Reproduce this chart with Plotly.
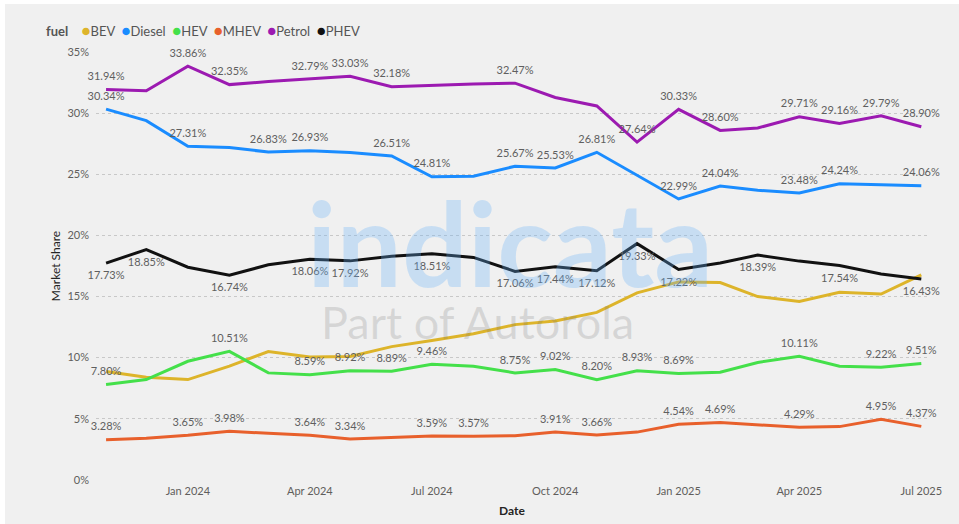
import plotly.graph_objects as go

months = ['2023-11-01', '2023-12-01', '2024-01-01', '2024-02-01', '2024-03-01', '2024-04-01',
          '2024-05-01', '2024-06-01', '2024-07-01', '2024-08-01', '2024-09-01', '2024-10-01',
          '2024-11-01', '2024-12-01', '2025-01-01', '2025-02-01', '2025-03-01', '2025-04-01',
          '2025-05-01', '2025-06-01', '2025-07-01']

bev = [8.86, 8.4, 8.2, 9.3, 10.5, 10.05, 10.1, 10.9, 11.4, 11.95, 12.7, 13.0,
       13.7, 15.3, 16.2, 16.15, 15.0, 14.6, 15.35, 15.2, 16.78]
diesel = [30.34, 29.4, 27.31, 27.2, 26.83, 26.93, 26.8, 26.51, 24.81, 24.85, 25.67, 25.53,
          26.81, 24.9, 22.99, 24.04, 23.7, 23.48, 24.24, 24.15, 24.06]
hev = [7.80, 8.2, 9.7, 10.51, 8.75, 8.59, 8.92, 8.89, 9.46, 9.3, 8.75, 9.02,
       8.20, 8.93, 8.69, 8.8, 9.6, 10.11, 9.3, 9.22, 9.51]
mhev = [3.28, 3.4, 3.65, 3.98, 3.8, 3.64, 3.34, 3.45, 3.59, 3.57, 3.6, 3.91,
        3.66, 3.9, 4.54, 4.69, 4.5, 4.29, 4.35, 4.95, 4.37]
petrol = [31.94, 31.85, 33.86, 32.35, 32.6, 32.79, 33.03, 32.18, 32.3, 32.4, 32.47, 31.3,
          30.6, 27.64, 30.33, 28.60, 28.8, 29.71, 29.16, 29.79, 28.90]
phev = [17.73, 18.85, 17.4, 16.74, 17.6, 18.06, 17.92, 18.3, 18.51, 18.2, 17.06, 17.44,
        17.12, 19.33, 17.22, 17.75, 18.39, 17.9, 17.54, 16.85, 16.43]

# indices of points whose data label is visible in the reference
bev_shown = []
diesel_shown = [0, 2, 4, 5, 7, 8, 10, 11, 12, 14, 15, 17, 18, 20]
hev_shown = [0, 3, 5, 6, 7, 8, 10, 11, 12, 13, 14, 17, 19, 20]
mhev_shown = [0, 2, 3, 5, 6, 8, 9, 11, 12, 14, 15, 17, 19, 20]
petrol_shown = [0, 2, 3, 5, 6, 7, 10, 13, 14, 15, 17, 18, 19, 20]
phev_shown = [0, 1, 3, 5, 6, 8, 10, 11, 12, 13, 14, 16, 18, 20]

series_names = ['BEV', 'Diesel', 'HEV', 'MHEV', 'Petrol', 'PHEV']
series_colors = ['#DDB42A', '#1A8CFF', '#44E04A', '#E8602C', '#9C1AB1', '#111111']

x_tickvals = ['2024-01-01', '2024-04-01', '2024-07-01', '2024-10-01', '2025-01-01', '2025-04-01', '2025-07-01']
x_ticktext = ['Jan 2024', 'Apr 2024', 'Jul 2024', 'Oct 2024', 'Jan 2025', 'Apr 2025', 'Jul 2025']
y_tickvals = [0, 5, 10, 15, 20, 25, 30, 35]
y_ticktext = ['0%', '5%', '10%', '15%', '20%', '25%', '30%', '35%']

FONT = 'Segoe UI, Lato, sans-serif'

fig = go.Figure()

series = [
    (bev, bev_shown, 'top center'),
    (diesel, diesel_shown, 'top center'),
    (hev, hev_shown, 'top center'),
    (mhev, mhev_shown, 'top center'),
    (petrol, petrol_shown, 'top center'),
    (phev, phev_shown, 'bottom center'),
]

for (vals, shown, pos), name, color in zip(series, series_names, series_colors):
    labels = [f'{v:.2f}%' if i in shown else '' for i, v in enumerate(vals)]
    fig.add_trace(go.Scatter(
        x=months, y=vals, name=name, mode='lines+markers+text',
        line=dict(color=color, width=3),
        marker=dict(size=11 if pos.startswith('bottom') else 9, opacity=0, color=color),
        text=labels, textposition=pos,
        textfont=dict(family=FONT, size=11, color='#5f5f5f'),
        showlegend=False, cliponaxis=False, hoverinfo='skip',
    ))

legend_parts = ['<b>fuel</b>  ']
for name, color in zip(series_names, series_colors):
    legend_parts.append(f'<span style="color:{color};font-size:15px">●</span>{name}')
legend_text = '  '.join(legend_parts)

fig.add_annotation(text=legend_text, xref='paper', yref='paper', x=-0.063, y=1.051,
                   xanchor='left', yanchor='middle', showarrow=False,
                   font=dict(family=FONT, size=13, color='#555555'))

# watermark
fig.add_annotation(text='<b>indicata</b>', xref='paper', yref='paper', x=0.497, y=0.555,
                   xanchor='center', yanchor='middle', showarrow=False,
                   font=dict(family='Lato, sans-serif', size=116, color='rgba(107,180,247,0.30)'))
fig.add_annotation(text='Part of Autorola', xref='paper', yref='paper', x=0.458, y=0.37,
                   xanchor='center', yanchor='middle', showarrow=False,
                   font=dict(family='Lato, sans-serif', size=45, color='rgba(120,120,120,0.22)'))

# white frame strips (top and left)
fig.add_shape(type='rect', xref='paper', yref='paper', x0=-0.2, x1=1.1, y0=1.112, y1=1.2,
              fillcolor='white', line=dict(width=0), layer='below')
fig.add_shape(type='rect', xref='paper', yref='paper', x0=-0.2, x1=-0.1094, y0=-0.2, y1=1.2,
              fillcolor='white', line=dict(width=0), layer='below')

fig.update_layout(
    width=959, height=524,
    margin=dict(l=96, r=31, t=52, b=44, autoexpand=False),
    paper_bgcolor='#f0f0f0', plot_bgcolor='#f0f0f0',
    font=dict(family=FONT, size=11, color='#605E5C'),
    showlegend=False,
    xaxis=dict(
        type='date', range=['2023-10-24 12:00', '2025-07-06'],
        tickvals=x_tickvals, ticktext=x_ticktext, automargin=False,
        showgrid=False, zeroline=False, showline=False, ticks='', ticklabelstandoff=3,
        tickfont=dict(family=FONT, size=11, color='#605E5C'),
        title=dict(text='<b>Date</b>', font=dict(family=FONT, size=12, color='#252423'), standoff=10),
    ),
    yaxis=dict(
        range=[-0.02, 35.02], tickvals=y_tickvals, ticktext=y_ticktext, automargin=False,
        showgrid=True, gridcolor='#c8c8c8', griddash='dot', gridwidth=1,
        zeroline=False, showline=False, ticks='', ticklabelstandoff=6,
        tickfont=dict(family=FONT, size=11, color='#605E5C'),
        title=dict(text='Market Share', font=dict(family=FONT, size=12, color='#252423'), standoff=4),
    ),
)

fig.write_html('out.html', config={'displayModeBar': False},
               post_script="document.body.style.margin='0';document.body.style.padding='0';")
